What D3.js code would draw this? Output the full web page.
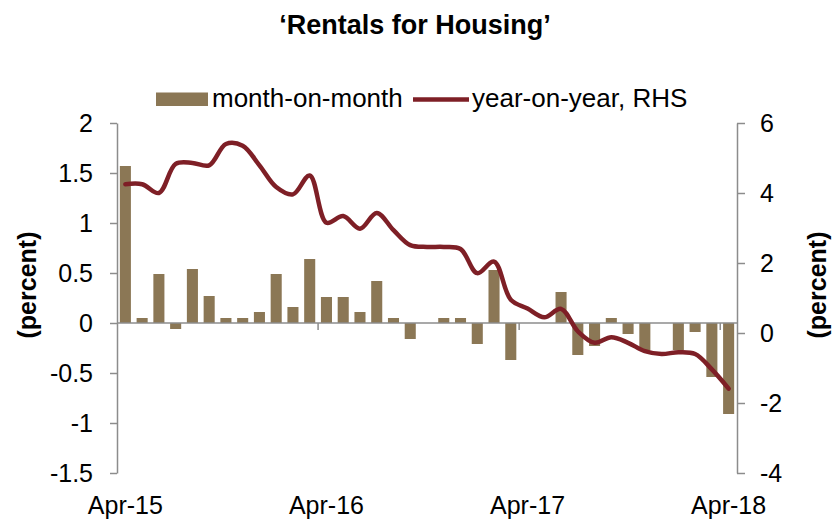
<!DOCTYPE html>
<html>
<head>
<meta charset="utf-8">
<script src="https://cdn.jsdelivr.net/npm/d3@7"></script>
<style>
  html, body { margin: 0; padding: 0; background: #fff; }
  svg text { font-family: "Liberation Sans", Arial, sans-serif; fill: #000; }
</style>
</head>
<body>
<svg id="chart" width="838" height="520"></svg>
<script>
// ---- data ----
const months = ["Apr-15","May-15","Jun-15","Jul-15","Aug-15","Sep-15","Oct-15","Nov-15","Dec-15","Jan-16","Feb-16","Mar-16",
                "Apr-16","May-16","Jun-16","Jul-16","Aug-16","Sep-16","Oct-16","Nov-16","Dec-16","Jan-17","Feb-17","Mar-17",
                "Apr-17","May-17","Jun-17","Jul-17","Aug-17","Sep-17","Oct-17","Nov-17","Dec-17","Jan-18","Feb-18","Mar-18","Apr-18"];
const monthOnMonth = [1.57,0.05,0.49,-0.06,0.54,0.27,0.05,0.05,0.11,0.49,0.16,0.64,
                      0.26,0.26,0.11,0.42,0.05,-0.16,0.00,0.05,0.05,-0.21,0.53,-0.37,
                      0.00,0.00,0.31,-0.32,-0.23,0.05,-0.11,-0.27,0.00,-0.27,-0.09,-0.54,-0.91];
const yearOnYear = [4.25,4.25,4.00,4.83,4.86,4.79,5.40,5.35,4.79,4.17,3.96,4.50,
                    3.15,3.34,2.98,3.43,2.94,2.51,2.46,2.46,2.40,1.71,2.04,0.95,
                    0.70,0.45,0.69,0.05,-0.28,-0.12,-0.28,-0.52,-0.60,-0.55,-0.60,-1.04,-1.59];
const leftTicks = [-1.5,-1,-0.5,0,0.5,1,1.5,2];
const rightTicks = [-4,-2,0,2,4,6];
const xLabelMonths = ["Apr-15","Apr-16","Apr-17","Apr-18"];
const seriesNames = ["month-on-month","year-on-year, RHS"];
const title = "\u2018Rentals for Housing\u2019";
const axisTitle = "(percent)";

// ---- layout ----
const svg = d3.select("#chart");
const plot = {left: 117, right: 737, top: 123, bottom: 473};
const barColor = "#8B7755";
const lineColor = "#7E1F26";
const axisColor = "#8C8C8C";

const x = d3.scaleBand().domain(months).range([plot.left, plot.right])
  .paddingInner(0.34).paddingOuter(0.17);
const yL = d3.scaleLinear().domain([-1.5, 2]).range([plot.bottom, plot.top]);
const yR = d3.scaleLinear().domain([-4, 6]).range([plot.bottom, plot.top]);

// title
svg.append("text").attr("x", 415).attr("y", 34).attr("text-anchor", "middle")
  .style("font-size", "27px").style("font-weight", "bold").text(title);

// bars
svg.append("g").selectAll("rect").data(months).join("rect")
  .attr("x", d => x(d))
  .attr("width", x.bandwidth())
  .attr("y", (d, i) => yL(Math.max(0, monthOnMonth[i])))
  .attr("height", (d, i) => Math.abs(yL(monthOnMonth[i]) - yL(0)))
  .attr("fill", barColor);

// x axis line at zero
const boundary = m => x(m) - x.step() * x.paddingInner() / 2;
svg.append("line").attr("x1", plot.left).attr("x2", plot.right)
  .attr("y1", yL(0)).attr("y2", yL(0)).attr("stroke", axisColor).attr("stroke-width", 1.5);
svg.append("g").selectAll("line").data(xLabelMonths.slice(1)).join("line")
  .attr("x1", d => boundary(d)).attr("x2", d => boundary(d))
  .attr("y1", yL(0)).attr("y2", yL(0) + 7)
  .attr("stroke", axisColor).attr("stroke-width", 1.5);
svg.append("g").selectAll("text").data(xLabelMonths).join("text")
  .attr("x", d => x(d) + x.bandwidth() / 2).attr("y", 514)
  .attr("text-anchor", "middle").style("font-size", "25px").text(d => d);

// left axis
const gL = svg.append("g").attr("transform", `translate(${plot.left},0)`)
  .call(d3.axisLeft(yL).tickValues(leftTicks).tickSize(7).tickSizeOuter(0).tickPadding(17).tickFormat(d => String(d)));
gL.selectAll("path,line").attr("stroke", axisColor).attr("stroke-width", 1.5);
gL.selectAll("text").style("font-size", "25px").attr("fill", "#000").style("font-family", '"Liberation Sans", Arial, sans-serif');

// right axis
const gR = svg.append("g").attr("transform", `translate(${plot.right},0)`)
  .call(d3.axisRight(yR).tickValues(rightTicks).tickSize(8).tickSizeOuter(0).tickPadding(15).tickFormat(d => String(d)));
gR.selectAll("path,line").attr("stroke", axisColor).attr("stroke-width", 1.5);
gR.selectAll("text").style("font-size", "25px").attr("fill", "#000").style("font-family", '"Liberation Sans", Arial, sans-serif');

// line
const line = d3.line()
  .x((d, i) => x(months[i]) + x.bandwidth() / 2)
  .y(d => yR(d))
  .curve(d3.curveCatmullRom.alpha(0.5));
svg.append("path").datum(yearOnYear).attr("d", line)
  .attr("fill", "none").attr("stroke", lineColor).attr("stroke-width", 4.5)
  .attr("stroke-linecap", "round").attr("stroke-linejoin", "round");

// axis titles
svg.append("text").attr("transform", "translate(36,285) rotate(-90)")
  .attr("text-anchor", "middle").style("font-size", "25px").style("font-weight", "bold").text(axisTitle);
svg.append("text").attr("transform", "translate(826,285) rotate(-90)")
  .attr("text-anchor", "middle").style("font-size", "25px").style("font-weight", "bold").text(axisTitle);

// legend
const leg = svg.append("g");
leg.append("rect").attr("x", 156).attr("y", 92.5).attr("width", 52).attr("height", 13.5).attr("fill", barColor);
leg.append("text").attr("x", 212).attr("y", 107).style("font-size", "26px").text(seriesNames[0]);
leg.append("line").attr("x1", 413).attr("x2", 469).attr("y1", 99.5).attr("y2", 99.5)
  .attr("stroke", lineColor).attr("stroke-width", 4.5);
leg.append("text").attr("x", 472).attr("y", 107).style("font-size", "26px").text(seriesNames[1]);
</script>
</body>
</html>
